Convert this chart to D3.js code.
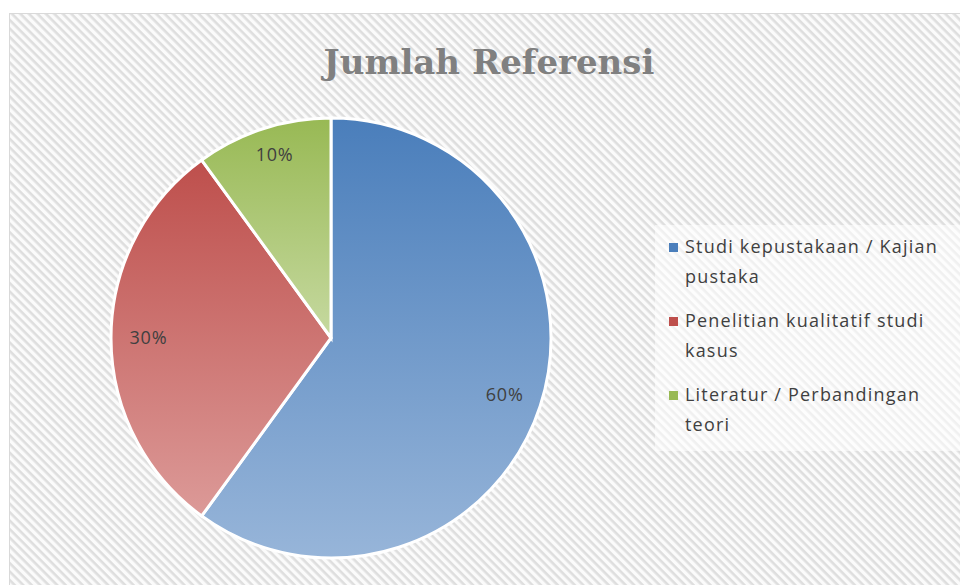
<!DOCTYPE html>
<html>
<head>
<meta charset="utf-8">
<script src="https://cdn.jsdelivr.net/npm/d3@7"></script>
<style>
  body { margin: 0; background: #fff; }
</style>
</head>
<body>
<div id="chart"></div>
<script>
const categories = ['Studi kepustakaan / Kajian pustaka', 'Penelitian kualitatif studi kasus', 'Literatur / Perbandingan teori'];
const values = [60, 30, 10];
const colorTop = ['#4a7ebb', '#be4f4c', '#98b954'];
const colorBottom = ['#97b5d9', '#dc9a98', '#c6d9a0'];

const width = 960, height = 585;
const cx = 331, cy = 338, radius = 220;

const svg = d3.select('#chart')
    .append('svg')
    .attr('width', width)
    .attr('height', height);

const defs = svg.append('defs');

// diagonal stripe background
const pattern = defs.append('pattern')
    .attr('id', 'stripes')
    .attr('patternUnits', 'userSpaceOnUse')
    .attr('width', 6)
    .attr('height', 6)
    .attr('patternTransform', 'rotate(45)');
pattern.append('rect').attr('width', 6).attr('height', 6).attr('fill', '#fbfbfb');
pattern.append('rect').attr('width', 6).attr('height', 2.6).attr('fill', '#dedede');

colorTop.forEach((c, i) => {
    const g = defs.append('linearGradient')
        .attr('id', 'grad' + i)
        .attr('x1', 0).attr('y1', 0).attr('x2', 0).attr('y2', 1);
    g.append('stop').attr('offset', '0%').attr('stop-color', c);
    g.append('stop').attr('offset', '100%').attr('stop-color', colorBottom[i]);
});

svg.append('rect')
    .attr('x', 9.5).attr('y', 13.5)
    .attr('width', width).attr('height', height)
    .attr('fill', 'url(#stripes)')
    .attr('stroke', '#d9d9d9')
    .attr('stroke-width', 1);

// title
svg.append('text')
    .attr('x', 489)
    .attr('y', 74)
    .attr('text-anchor', 'middle')
    .attr('font-family', '"DejaVu Serif", serif')
    .attr('font-weight', 'bold')
    .attr('font-size', '34px')
    .attr('fill', '#808080')
    .text('Jumlah Referensi');

const pie = d3.pie().value(d => d).sort(null);
const arc = d3.arc().innerRadius(0).outerRadius(radius);
const labelArc = d3.arc().innerRadius(radius * 0.83).outerRadius(radius * 0.83);

const g = svg.append('g').attr('transform', `translate(${cx},${cy})`);

const arcs = g.selectAll('.slice')
    .data(pie(values))
    .enter().append('g')
    .attr('class', 'slice');

arcs.append('path')
    .attr('d', arc)
    .attr('fill', (d, i) => `url(#grad${i})`)
    .attr('stroke', 'white')
    .style('stroke-width', '3px');

const total = d3.sum(values);
arcs.append('text')
    .attr('transform', d => {
        const c = labelArc.centroid(d);
        // small label sits a bit higher in the reference
        if (d.index === 2) c[1] -= 10;
        return `translate(${c})`;
    })
    .attr('text-anchor', 'middle')
    .attr('dy', '0.35em')
    .attr('font-family', '"Open Sans", sans-serif')
    .attr('font-size', '18px')
    .attr('letter-spacing', '0.8px')
    .attr('fill', '#404040')
    .text(d => Math.round(d.data / total * 100) + '%');

// legend
svg.append('rect')
    .attr('x', 655).attr('y', 225)
    .attr('width', 310).attr('height', 226)
    .attr('fill', 'white')
    .attr('fill-opacity', 0.55);

const legend = svg.append('g').attr('transform', 'translate(669, 247)');
const maxWidth = 266;

categories.forEach((name, i) => {
    const item = legend.append('g').attr('transform', `translate(0, ${i * 74})`);
    item.append('rect')
        .attr('x', 0).attr('y', -4)
        .attr('width', 9).attr('height', 9)
        .attr('fill', colorTop[i]);
    const text = item.append('text')
        .attr('x', 16)
        .attr('font-family', '"Open Sans", sans-serif')
        .attr('font-size', '18px')
        .attr('letter-spacing', '1.2px')
        .attr('fill', '#404040');
    const words = name.split(' ');
    let line = [], lineNo = 0;
    let tspan = text.append('tspan').attr('x', 16).attr('y', 0).attr('dy', '0.35em');
    words.forEach(w => {
        line.push(w);
        tspan.text(line.join(' '));
        if (tspan.node().getComputedTextLength() > maxWidth && line.length > 1) {
            line.pop();
            tspan.text(line.join(' '));
            line = [w];
            lineNo++;
            tspan = text.append('tspan').attr('x', 16).attr('y', lineNo * 30).attr('dy', '0.35em').text(w);
        }
    });
});
</script>
</body>
</html>
